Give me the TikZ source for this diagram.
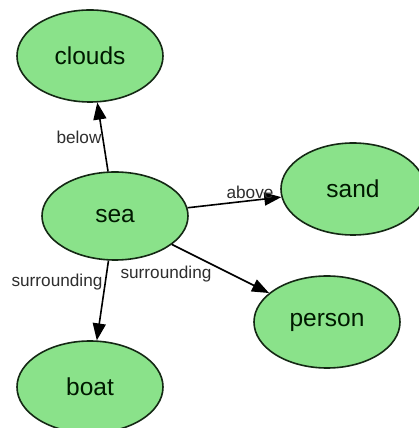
\documentclass[tikz,border=0pt]{standalone}
\usepackage{fontspec}
\setmainfont{Liberation Sans}
\usetikzlibrary{shapes.geometric,arrows.meta}
\definecolor{nodefill}{HTML}{8AE28A}
\definecolor{nodeline}{HTML}{142814}
\definecolor{labelgray}{HTML}{2E2E2E}
\tikzset{
  concept/.style={ellipse, draw=nodeline, line width=1.6pt, fill=nodefill,
    minimum width=146pt, minimum height=92pt, inner sep=0pt,
    font=\fontsize{24.5}{27}\selectfont, text=black!90!green},
  relation/.style={-{Triangle[length=17pt,width=13pt]}, line width=1.6pt, black},
  rellabel/.style={font=\fontsize{17.2}{19}\selectfont, text=labelgray, inner sep=0pt}
}
\begin{document}
\begin{tikzpicture}[x=1pt,y=1pt]
  \useasboundingbox (0,0) rectangle (419,428);
  \fill[white] (0,0) rectangle (419,428);

  % concepts
  \node[concept] (clouds) at (90,372) {clouds};
  \node[concept, minimum height=88pt] (sea) at (115,212) {sea};
  \node[concept, minimum width=144pt] (sand) at (353,239) {sand};
  \node[concept] (person) at (327,106) {person};
  \node[concept] (boat) at (90,41) {boat};

  % relations
  \draw[relation] (sea) -- (clouds);
  \draw[relation] (sea) -- (sand);
  \draw[relation] (sea) -- (person);
  \draw[relation] (sea) -- (boat);

  % relation labels
  \node[rellabel] (lbelow) at (79,291) {below};
  \node[rellabel] (labove) at (250,236) {above};
  \node[rellabel] (lsurrp) at (166,154) {surrounding};
  \node[rellabel] (lsurrb) at (57,146) {surrounding};
\end{tikzpicture}
\end{document}
